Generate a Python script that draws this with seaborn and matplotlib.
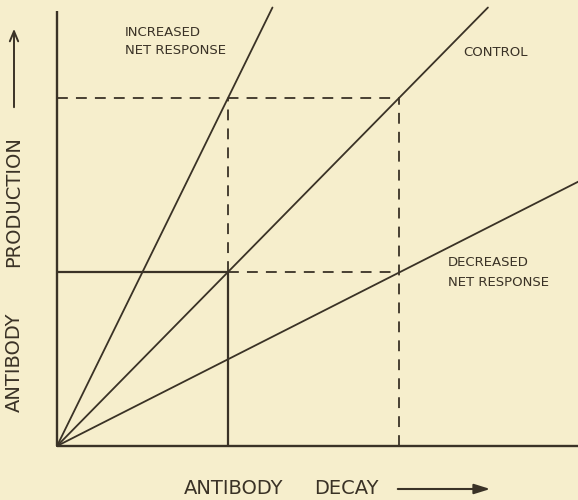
import matplotlib
matplotlib.use("Agg")
import matplotlib.pyplot as plt
import seaborn as sns
import pandas as pd

# ---- data (diagram units: 1 = reference level) ----
line_names = ["INCREASED NET RESPONSE", "CONTROL", "DECREASED NET RESPONSE"]
line_x_end = [1.26, 2.52, 3.05]
line_y_end = [2.52, 2.52, 1.52]

# guide segments
solid_x = [[0, 1], [1, 1]]
solid_y = [[1, 1], [0, 1]]
dashed_x = [[0, 2], [1, 2], [1, 1], [2, 2]]
dashed_y = [[2, 2], [1, 1], [1, 2], [0, 2]]

x_label_words = ["ANTIBODY", "DECAY"]
y_label_words = ["ANTIBODY", "PRODUCTION"]

BG = "#f6eecc"
INK = "#3a3226"

sns.set_theme(style="white", rc={"axes.facecolor": BG, "figure.facecolor": BG})
plt.rcParams["font.family"] = ["DejaVu Sans"]

W, H = 578, 500
fig = plt.figure(figsize=(W / 100, H / 100), dpi=100)
ax = fig.add_axes([0, 0, 1, 1])
ax.set_facecolor(BG)

X0, Y0 = 57, 446      # origin in pixels
SX, SY = 171, 174     # pixels per unit
ax.set_xlim(-X0 / SX, (W - X0) / SX)
ax.set_ylim(-(H - Y0) / SY, Y0 / SY)
ax.axis("off")

# axes lines
ax.plot([0, 0], [0, (Y0 - 11) / SY], color=INK, lw=1.7, solid_capstyle="butt")
ax.plot([0, (W - X0) / SX], [0, 0], color=INK, lw=1.7, solid_capstyle="butt")

# response lines via seaborn
rows = []
for n, xe, ye in zip(line_names, line_x_end, line_y_end):
    rows.append({"line": n, "x": 0.0, "y": 0.0})
    rows.append({"line": n, "x": xe, "y": ye})
df = pd.DataFrame(rows)
sns.lineplot(data=df, x="x", y="y", units="line", estimator=None,
             color=INK, lw=1.3, ax=ax, legend=False, sort=False)

for xs, ys in zip(solid_x, solid_y):
    ax.plot(xs, ys, color=INK, lw=1.6, solid_capstyle="butt")
for xs, ys in zip(dashed_x, dashed_y):
    ax.plot(xs, ys, color=INK, lw=1.3, linestyle=(0, (6, 4.5)))

def ftxt(px, py, s, **kw):
    fig.text(px / W, 1 - py / H, s, color=INK, **kw)

SMALL = 9.5
ftxt(125, 32, "INCREASED", fontsize=SMALL, ha="left", va="center")
ftxt(125, 51, "NET RESPONSE", fontsize=SMALL, ha="left", va="center")
ftxt(463, 52, "CONTROL", fontsize=SMALL, ha="left", va="center")
ftxt(448, 262, "DECREASED", fontsize=SMALL, ha="left", va="center")
ftxt(448, 282, "NET RESPONSE", fontsize=SMALL, ha="left", va="center")

# axis labels (word by word, matching the wide lettering)
BIG = 14
ftxt(234, 489, x_label_words[0], fontsize=BIG, ha="center", va="center")
ftxt(346, 489, x_label_words[1], fontsize=BIG, ha="center", va="center")
ftxt(14, 362, y_label_words[0], fontsize=BIG, ha="center", va="center", rotation=90)
ftxt(14, 202, y_label_words[1], fontsize=BIG, ha="center", va="center", rotation=90)

# arrows
ax.annotate("", xy=(493 / W, 1 - 489 / H), xytext=(395 / W, 1 - 489 / H),
            xycoords="figure fraction", textcoords="figure fraction",
            arrowprops=dict(arrowstyle="-|>,head_length=0.8,head_width=0.25",
                            color=INK, lw=1.5))
ax.annotate("", xy=(14 / W, 1 - 26 / H), xytext=(14 / W, 1 - 110 / H),
            xycoords="figure fraction", textcoords="figure fraction",
            arrowprops=dict(arrowstyle="->,head_length=0.6,head_width=0.25",
                            color=INK, lw=1.4))

fig.savefig("out.png", dpi=100, facecolor=BG)
